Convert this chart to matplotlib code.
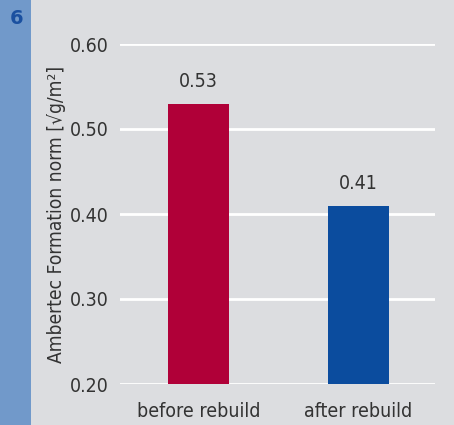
import matplotlib
matplotlib.use('Agg')
import matplotlib.pyplot as plt

categories = ['before rebuild', 'after rebuild']
values = [0.53, 0.41]
bar_colors = ['#b00038', '#0b4c9e']
yticks = [0.20, 0.30, 0.40, 0.50, 0.60]

plt.rcParams['font.family'] = ['DejaVu Sans']
plt.rcParams['font.stretch'] = 'condensed'
text_color = '#333333'

fig = plt.figure(figsize=(4.54, 4.25), dpi=100)
fig.patch.set_facecolor('#dcdde0')

# blue strip on the left with the figure number
fig.patches.append(plt.Rectangle((0, 0), 31 / 454, 1, transform=fig.transFigure,
                                 facecolor='#7199ca', edgecolor='none', zorder=0))
fig.text(16.5 / 454, 1 - 18.5 / 425, '6', color='#1a50a0', fontsize=14,
         fontweight='bold', fontstretch='normal', ha='center', va='center')

ax = fig.add_axes([120 / 454, 1 - 384 / 425, 315 / 454, 340 / 425])
ax.set_facecolor('none')

x = list(range(len(categories)))
ax.bar(x, [v - 0.2 for v in values], bottom=0.2, width=0.38, color=bar_colors, zorder=3)
for xi, v in zip(x, values):
    ax.text(xi, v + 0.026, '{:.2f}'.format(v), ha='center', va='center',
            fontsize=14, color=text_color)

ax.set_xlim(-0.49, 1.48)
ax.set_ylim(0.2, 0.6)
ax.set_yticks(yticks)
ax.set_yticklabels(['{:.2f}'.format(t) for t in yticks])
ax.set_xticks(x)
ax.set_xticklabels(categories)
ax.tick_params(length=0, labelsize=14, labelcolor=text_color)
ax.tick_params(axis='y', pad=8)
ax.tick_params(axis='x', pad=13)
ax.grid(axis='y', color='white', linewidth=2, zorder=1)
ax.set_axisbelow(True)
for s in ax.spines.values():
    s.set_visible(False)

ax.set_ylabel('Ambertec Formation norm [\u221ag/m\u00b2]', fontsize=13.8,
              color=text_color)
ax.yaxis.set_label_coords(-54 / 315, 0.5)

fig.savefig('out.png', dpi=100, facecolor=fig.get_facecolor())
